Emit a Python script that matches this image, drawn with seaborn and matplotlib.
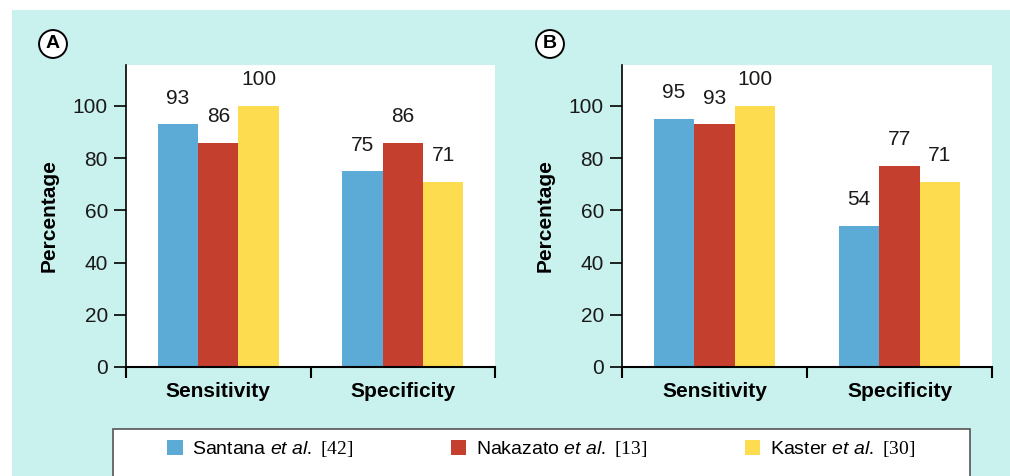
import pandas as pd
import seaborn as sns
import matplotlib.pyplot as plt
from matplotlib.patches import Patch, Rectangle
from matplotlib.ticker import FixedLocator

# data
categories = ["Sensitivity", "Specificity"]
studies = ["Santana", "Nakazato", "Kaster"]
refs = ["42", "13", "30"]
santana_a = [93, 75]
nakazato_a = [86, 86]
kaster_a = [100, 71]
santana_b = [95, 54]
nakazato_b = [93, 77]
kaster_b = [100, 71]

colors = ["#5babd6", "#c53f2f", "#fedc50"]

sns.set_style("ticks", {"axes.edgecolor": "black", "text.color": "black",
                        "xtick.color": "black", "ytick.color": "black",
                        "axes.labelcolor": "black"})
plt.rcParams["font.family"] = ["Liberation Sans", "DejaVu Sans"]
plt.rcParams["mathtext.fontset"] = "custom"
plt.rcParams["mathtext.it"] = "Liberation Sans:italic"
plt.rcParams["mathtext.rm"] = "Liberation Serif"


def make_df(s, n, k):
    rows = []
    for vals, name in zip([s, n, k], studies):
        for c, v in zip(categories, vals):
            rows.append({"measure": c, "study": name, "value": v})
    return pd.DataFrame(rows)


fig = plt.figure(figsize=(10.1, 4.76), dpi=100, facecolor="white")
# light cyan panel behind everything
fig.patches.append(Rectangle((12 / 1010, 0), 1, 1 - 10 / 476, transform=fig.transFigure,
                             facecolor="#c9f1ed", edgecolor="none", zorder=-5))

ax0 = fig.add_axes([126 / 1010, 109 / 476, 369 / 1010, 302 / 476])
ax1 = fig.add_axes([622 / 1010, 109 / 476, 370 / 1010, 302 / 476])

for ax, df, letter, lx in [(ax0, make_df(santana_a, nakazato_a, kaster_a), "A", 53),
                           (ax1, make_df(santana_b, nakazato_b, kaster_b), "B", 550)]:
    sns.barplot(data=df, x="measure", y="value", hue="study", hue_order=studies,
                palette=colors, width=0.655, saturation=1, legend=False,
                linewidth=0, ax=ax)
    for c in ax.containers:
        ax.bar_label(c, padding=12, fontsize=15, color="#1a1a1a")
    ax.set_facecolor("white")
    ax.set_xlim(-0.5, 1.5)
    ax.set_ylim(0, 115.7)
    ax.set_yticks([0, 20, 40, 60, 80, 100])
    ax.tick_params(axis="y", labelsize=15, length=9, width=1.2, pad=4, labelcolor="#1a1a1a")
    ax.tick_params(axis="x", which="major", length=0, pad=11)
    ax.xaxis.set_minor_locator(FixedLocator([-0.5, 0.5, 1.5]))
    ax.tick_params(axis="x", which="minor", length=8, width=1.5, direction="out")
    for lab in ax.get_xticklabels():
        lab.set_fontweight("bold")
        lab.set_fontsize(15)
    ax.set_xlabel("")
    ax.set_ylabel("Percentage", fontsize=15, fontweight="bold", labelpad=10)
    for s in ["top", "right"]:
        ax.spines[s].set_visible(False)
    ax.spines["left"].set_linewidth(1.2)
    ax.spines["bottom"].set_linewidth(1.5)
    fig.text(lx / 1010, 1 - 44 / 476, letter, fontsize=14, fontweight="bold",
             ha="center", va="center",
             bbox=dict(boxstyle="circle,pad=0.28", facecolor="white", edgecolor="black", lw=1.4))

# legend box spanning the lower band
fig.patches.append(Rectangle((113 / 1010, -0.02), 857 / 1010, 1 - 429 / 476 + 0.02,
                             transform=fig.transFigure, facecolor="white",
                             edgecolor="#555555", lw=1.2, zorder=-1))
handles = [Patch(facecolor=c, edgecolor="none") for c in colors]
labels = [f"{s} $\\mathit{{et\\ al.}}$ $\\mathrm{{[{r}]}}$" for s, r in zip(studies, refs)]
fig.legend(handles, labels, loc="center", bbox_to_anchor=(541 / 1010, 1 - 449 / 476), ncol=3,
           frameon=False, fontsize=14, handlelength=0.8, handleheight=0.8,
           handletextpad=0.5, columnspacing=5.0)

fig.savefig("out.png", dpi=100, facecolor="white")
